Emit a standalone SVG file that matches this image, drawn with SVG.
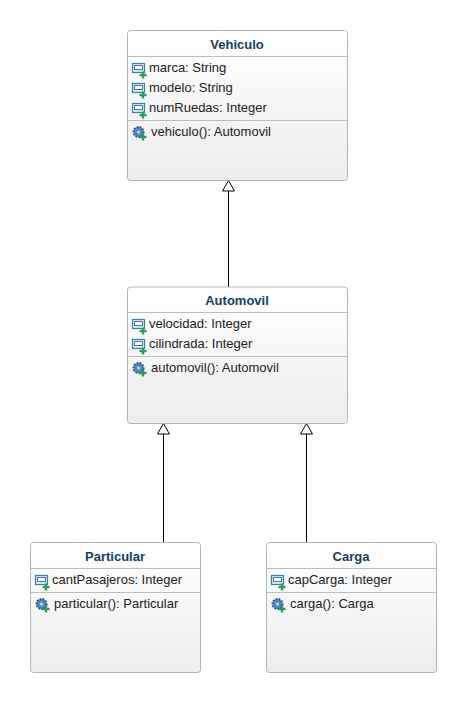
<svg xmlns="http://www.w3.org/2000/svg" width="466" height="702" viewBox="0 0 466 702">
<style>
text{font-family:"Liberation Sans",Arial,sans-serif;font-size:13px;fill:#222}
.t{font-weight:bold;fill:#17405f;text-anchor:middle}
.b{stroke:#b4b4b4;stroke-width:1;fill:url(#g)}
.d{stroke:#bdbdbd;stroke-width:1;fill:none}
.c{stroke:#000;stroke-width:1;fill:none}
.h{stroke:#000;stroke-width:1;fill:#fff}
</style>
<defs>
<linearGradient id="g" x1="0" y1="0" x2="0" y2="1"><stop offset="0" stop-color="#ffffff"/><stop offset="1" stop-color="#ededed"/></linearGradient>
<g id="plus"><rect x="-1.200" y="-3.500" width="2.400" height="7" fill="#2e9a5b"/><rect x="-3.500" y="-1.200" width="7" height="2.400" fill="#2e9a5b"/></g>
<g id="attr"><rect x="0.500" y="0.500" width="12" height="9" fill="#dbe9f3" stroke="#3f7ea8" stroke-width="1.200"/><rect x="2.500" y="2.500" width="8" height="4" fill="#fff" stroke="#3f7ea8" stroke-width="1"/><use href="#plus" x="11" y="12"/></g>
<g id="op"><circle cx="6.500" cy="6" r="5" fill="#5a86bd" stroke="#2b5a96" stroke-width="2" stroke-dasharray="1.800 1.200"/><circle cx="6.500" cy="6" r="1.500" fill="#c9dcef"/><use href="#plus" x="11" y="11"/></g>
</defs>
<g id="connectors">
<path class="c" d="M228.500 287V191"/><path class="h" d="M228.500 180.500L222.500 191H234.500Z"/>
<path class="c" d="M163.500 543V434"/><path class="h" d="M163.500 423.500L157.500 434H169.500Z"/>
<path class="c" d="M306.500 543V434"/><path class="h" d="M306.500 423.500L300.500 434H312.500Z"/>
</g>
<g id="Vehiculo">
<rect class="b" x="127.500" y="30.500" width="220" height="150" rx="3"/>
<path class="d" d="M128 56.500H347M128 120.500H347"/>
<text class="t" x="237" y="49">Vehiculo</text>
<use href="#attr" x="132" y="63"/><text x="149" y="72">marca: String</text>
<use href="#attr" x="132" y="83"/><text x="149" y="92">modelo: String</text>
<use href="#attr" x="132" y="103"/><text x="149" y="112">numRuedas: Integer</text>
<use href="#op" x="132" y="126"/><text x="151" y="136">vehiculo(): Automovil</text>
</g>
<g id="Automovil">
<rect class="b" x="127.500" y="287" width="220" height="136.500" rx="3"/>
<path class="d" d="M128 312.500H347M128 356.500H347"/>
<text class="t" x="237" y="305">Automovil</text>
<use href="#attr" x="132" y="319"/><text x="149" y="328">velocidad: Integer</text>
<use href="#attr" x="132" y="339"/><text x="149" y="348">cilindrada: Integer</text>
<use href="#op" x="132" y="362"/><text x="151" y="372">automovil(): Automovil</text>
</g>
<g id="Particular">
<rect class="b" x="30.500" y="542.500" width="170" height="130" rx="3"/>
<path class="d" d="M31 568.500H200M31 592.500H200"/>
<text class="t" x="115" y="561">Particular</text>
<use href="#attr" x="35" y="575"/><text x="52" y="584">cantPasajeros: Integer</text>
<use href="#op" x="35" y="598"/><text x="54" y="608">particular(): Particular</text>
</g>
<g id="Carga">
<rect class="b" x="266.500" y="542.500" width="170" height="130" rx="3"/>
<path class="d" d="M267 568.500H436M267 592.500H436"/>
<text class="t" x="351" y="561">Carga</text>
<use href="#attr" x="271" y="575"/><text x="288" y="584">capCarga: Integer</text>
<use href="#op" x="271" y="598"/><text x="290" y="608">carga(): Carga</text>
</g>
</svg>
